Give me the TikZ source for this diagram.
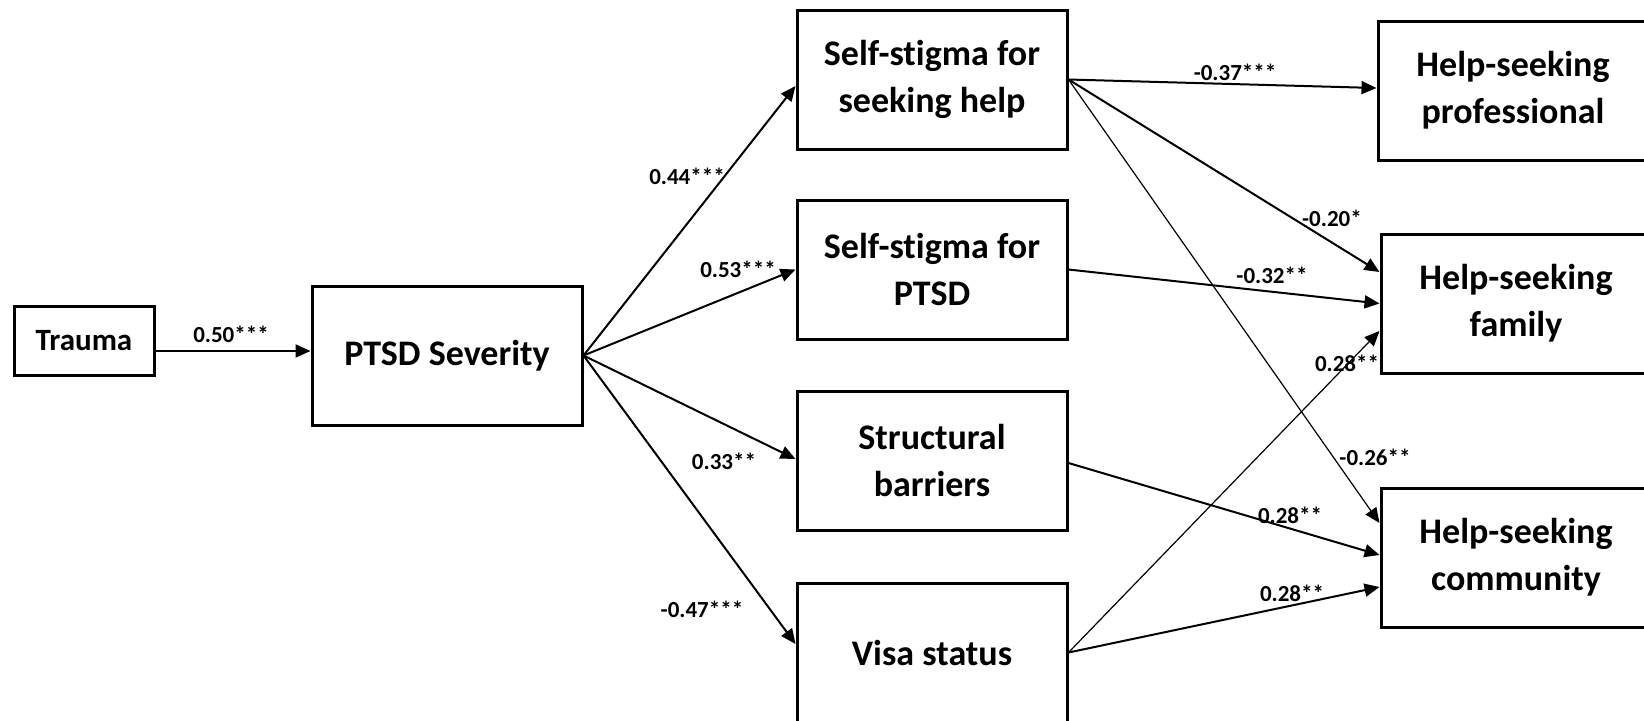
\documentclass[tikz,border=0pt]{standalone}
\usepackage{fontspec}
\setmainfont[Ligatures=NoCommon]{Carlito}
\usetikzlibrary{arrows.meta,calc}
\begin{document}
\begin{tikzpicture}[x=0.5pt,y=-0.5pt,
  box/.style={draw, line width=1.5pt, minimum width=135pt, minimum height=69.5pt,
    align=center, inner sep=0pt, font=\bfseries\fontsize{18}{23.5}\selectfont},
  arr/.style={-{Triangle[length=7.5pt,width=6.5pt]}, line width=1pt},
  thinarr/.style={arr, line width=0.6pt},
  lab/.style={font=\bfseries\fontsize{11.5}{13}\selectfont, inner sep=0pt}]
\useasboundingbox (0,0) rectangle (1644,720);
\clip (0,0) rectangle (1644,720);
% nodes
\node[box, minimum width=70pt, minimum height=34.5pt,
      font=\bfseries\fontsize{15.5}{18}\selectfont] (trauma) at (84,340.5) {Trauma};
\node[box] (ptsd) at (447,355.5) {PTSD Severity};
\node[box] (ssh)  at (932,79.5)  {Self-stigma for\\seeking help};
\node[box] (ssp)  at (932,269.5) {Self-stigma for\\PTSD};
\node[box] (sb)   at (932,460.5) {Structural\\barriers};
\node[box] (visa) at (932,652.5) {Visa status};
\node[box] (prof) at (1513,90.5) {Help-seeking\\professional};
\node[box] (fam)  at (1516,303.5) {Help-seeking\\family};
\node[box] (com)  at (1516,557.5) {Help-seeking\\community};
% connectors
\draw[arr] ($(trauma.east)+(0,10.5)$) coordinate (t1) -- (t1 -| ptsd.west);
\draw[arr] (ptsd.east) -- ($(ssh.west)+(0,6.5)$);
\draw[arr] (ptsd.east) -- (ssp.west);
\draw[arr] (ptsd.east) -- ($(sb.west)+(0,-1.5)$);
\draw[arr] (ptsd.east) -- ($(visa.west)+(0,-8.5)$);
\draw[arr] (ssh.east) -- ($(prof.west)+(0,-2.5)$);
\draw[arr] (ssh.east) -- ($(fam.west)+(0,-31.5)$);
\draw[thinarr] (ssh.east) -- ($(com.west)+(0,-34.5)$);
\draw[arr] (ssp.east) -- (fam.west);
\draw[arr] ($(sb.east)+(0,2.5)$) -- ($(com.west)+(0,-2.5)$);
\draw[arr] (visa.east) -- ($(com.west)+(0,29.5)$);
\draw[thinarr] (visa.east) -- ($(fam.west)+(0,27.5)$);
% labels
\node[lab] (l1)  at (231,334) {0.50***};
\node[lab] (l2)  at (687,176) {0.44***};
\node[lab] (l3)  at (738,269) {0.53***};
\node[lab] (l4)  at (724,461) {0.33**};
\node[lab] (l5)  at (702,609) {-0.47***};
\node[lab] (l6)  at (1235,72) {-0.37***};
\node[lab] (l7)  at (1332,218) {-0.20*};
\node[lab] (l8)  at (1272,275) {-0.32**};
\node[lab] (l9)  at (1347,363) {0.28**};
\node[lab] (l10) at (1375,457) {-0.26**};
\node[lab] (l11) at (1290,515) {0.28**};
\node[lab] (l12) at (1292,593) {0.28**};
\end{tikzpicture}
\end{document}
